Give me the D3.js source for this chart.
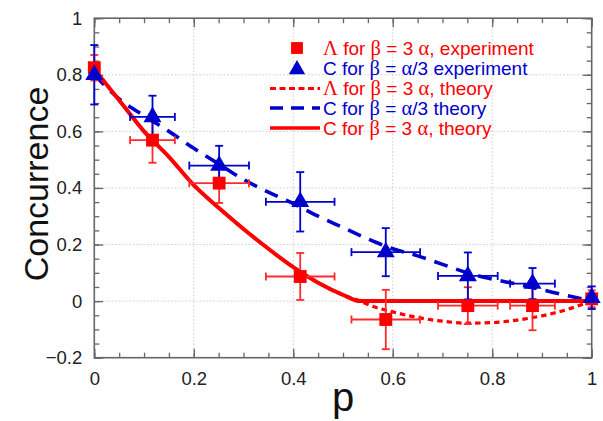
<!DOCTYPE html>
<meta charset="utf-8">
<style>
body { margin: 0; background: #fff; }
text { font-family: "Liberation Sans", Arial, sans-serif; }
.grid line { stroke: #ccc; stroke-dasharray: 1.5,2; }
</style>
<svg width="603" height="421"></svg>
<script src="https://cdnjs.cloudflare.com/ajax/libs/d3/7.8.5/d3.min.js"></script>
<script>

// experiment points
var pExp = [0, 0.117, 0.251, 0.414, 0.586, 0.751, 0.881, 1];
var pErr = [0, 0.045, 0.06, 0.069, 0.069, 0.06, 0.045, 0];
var lambdaExp = [0.825, 0.569, 0.417, 0.087, -0.065, -0.016, -0.016, 0.008];
var lambdaErr = [0.045, 0.08, 0.07, 0.083, 0.105, 0.065, 0.087, 0.03];
var cExp = [0.80, 0.651, 0.479, 0.351, 0.173, 0.089, 0.062, 0.012];
var cErr = [0.105, 0.075, 0.07, 0.105, 0.085, 0.083, 0.055, 0.04];

// theory curves
var pRed = [0, 0.05, 0.1, 0.15, 0.2, 0.25, 0.3, 0.35, 0.4, 0.45, 0.5, 0.535, 0.55, 0.6, 0.65, 0.7, 0.75, 0.8, 0.85, 0.9, 0.95, 1];
var lambdaTheory = [0.82, 0.71, 0.60, 0.51, 0.41, 0.33, 0.255, 0.185, 0.12, 0.065, 0.022, 0, -0.012, -0.038, -0.058, -0.071, -0.078, -0.076, -0.067, -0.052, -0.03, 0];
var cTheoryRed = [0.82, 0.71, 0.60, 0.51, 0.41, 0.33, 0.255, 0.185, 0.12, 0.065, 0.022, 0, 0, 0, 0, 0, 0, 0, 0, 0, 0, 0];
var pBlue = [0, 0.05, 0.1, 0.15, 0.2, 0.25, 0.3, 0.35, 0.4, 0.45, 0.5, 0.55, 0.6, 0.65, 0.7, 0.75, 0.8, 0.85, 0.9, 0.95, 1];
var cTheoryBlue = [0.80, 0.715, 0.655, 0.60, 0.54, 0.485, 0.43, 0.385, 0.345, 0.30, 0.26, 0.22, 0.185, 0.16, 0.13, 0.10, 0.078, 0.06, 0.04, 0.02, 0];

var xTicks = [0, 0.2, 0.4, 0.6, 0.8, 1];
var yTicks = [-0.2, 0, 0.2, 0.4, 0.6, 0.8, 1];

var RED = "#ff0000", BLUE = "#0000cc";

var svg = d3.select("svg");
var x = d3.scaleLinear().domain([0, 1]).range([94.3, 591.7]);
var y = d3.scaleLinear().domain([-0.2, 1]).range([357.7, 18.2]);

// grid
var grid = svg.append("g").attr("class", "grid");
grid.selectAll(".gx").data(xTicks.slice(1, -1)).enter().append("line")
    .attr("x1", d => x(d)).attr("x2", d => x(d)).attr("y1", y(1)).attr("y2", y(-0.2));
grid.selectAll(".gy").data(yTicks.slice(1, -1)).enter().append("line")
    .attr("x1", x(0)).attr("x2", x(1)).attr("y1", d => y(d)).attr("y2", d => y(d));

// axes: ticks inward on all four sides
var minorX = d3.range(0, 1.0001, 0.05), minorY = d3.range(-0.2, 1.0001, 0.05);
function axisStyle(g) {
  g.select(".domain").remove();
  g.selectAll("line").attr("stroke", "#666").attr("stroke-width", 1.3);
  g.selectAll("text").attr("fill", "#222").attr("font-size", "18.5px").attr("font-family", "Liberation Sans, Arial, sans-serif");
}
svg.append("g").attr("transform", "translate(0," + y(-0.2) + ")")
  .call(d3.axisBottom(x).tickValues(minorX).tickSize(-5).tickFormat(""))
  .call(axisStyle);
svg.append("g").attr("transform", "translate(0," + y(-0.2) + ")")
  .call(d3.axisBottom(x).tickValues(xTicks).tickSize(-9).tickPadding(14).tickFormat(d3.format("")))
  .call(axisStyle);
svg.append("g").attr("transform", "translate(0," + y(1) + ")")
  .call(d3.axisTop(x).tickValues(minorX).tickSize(-5).tickFormat(""))
  .call(axisStyle);
svg.append("g").attr("transform", "translate(0," + y(1) + ")")
  .call(d3.axisTop(x).tickValues(xTicks).tickSize(-9).tickFormat(""))
  .call(axisStyle);
svg.append("g").attr("transform", "translate(" + x(0) + ",0)")
  .call(d3.axisLeft(y).tickValues(minorY).tickSize(-5).tickFormat(""))
  .call(axisStyle);
svg.append("g").attr("transform", "translate(" + x(0) + ",0)")
  .call(d3.axisLeft(y).tickValues(yTicks).tickSize(-9).tickPadding(12).tickFormat(d3.format("")))
  .call(axisStyle);
svg.append("g").attr("transform", "translate(" + x(1) + ",0)")
  .call(d3.axisRight(y).tickValues(minorY).tickSize(-5).tickFormat(""))
  .call(axisStyle);
svg.append("g").attr("transform", "translate(" + x(1) + ",0)")
  .call(d3.axisRight(y).tickValues(yTicks).tickSize(-9).tickFormat(""))
  .call(axisStyle);

svg.append("rect")
  .attr("x", x(0)).attr("y", y(1)).attr("width", x(1) - x(0)).attr("height", y(-0.2) - y(1))
  .attr("fill", "none").attr("stroke", "#666").attr("stroke-width", 1.6);

// axis titles
svg.append("text").attr("x", 343).attr("y", 411).attr("text-anchor", "middle")
  .attr("font-size", "40px").attr("fill", "#111").text("p");
svg.append("text").attr("transform", "translate(48,184) rotate(-90)").attr("text-anchor", "middle")
  .attr("font-size", "34px").attr("fill", "#111").text("Concurrence");

// theory curves
var line = d3.line().curve(d3.curveMonotoneX);
svg.append("path")
  .attr("d", line(pRed.map((p, i) => [x(p), y(lambdaTheory[i])])))
  .attr("fill", "none").attr("stroke", RED).attr("stroke-width", 3.2).attr("stroke-dasharray", "5.5,4");
svg.append("path")
  .attr("d", line(pBlue.map((p, i) => [x(p), y(cTheoryBlue[i])])))
  .attr("fill", "none").attr("stroke", BLUE).attr("stroke-width", 3.6).attr("stroke-dasharray", "14,9");
svg.append("path")
  .attr("d", line(pRed.map((p, i) => [x(p), y(cTheoryRed[i])])))
  .attr("fill", "none").attr("stroke", RED).attr("stroke-width", 4);

// error bars
function errorBars(vals, errs, color) {
  var g = svg.append("g").attr("stroke", color).attr("stroke-width", 1.8).attr("fill", "none");
  pExp.forEach(function(p, i) {
    var cx = x(p), cy = y(vals[i]);
    var y0 = y(vals[i] - errs[i]), y1 = y(vals[i] + errs[i]);
    g.append("line").attr("x1", cx).attr("x2", cx).attr("y1", y0).attr("y2", y1);
    g.append("line").attr("x1", cx - 4).attr("x2", cx + 4).attr("y1", y0).attr("y2", y0);
    g.append("line").attr("x1", cx - 4).attr("x2", cx + 4).attr("y1", y1).attr("y2", y1);
    if (pErr[i] > 0) {
      var x0 = x(p - pErr[i]), x1 = x(p + pErr[i]);
      g.append("line").attr("x1", x0).attr("x2", x1).attr("y1", cy).attr("y2", cy);
      g.append("line").attr("x1", x0).attr("x2", x0).attr("y1", cy - 4).attr("y2", cy + 4);
      g.append("line").attr("x1", x1).attr("x2", x1).attr("y1", cy - 4).attr("y2", cy + 4);
    }
  });
}
errorBars(lambdaExp, lambdaErr, "#ff2a2a");
errorBars(cExp, cErr, BLUE);

// markers
var square = d3.symbol().type(d3.symbolSquare).size(165);
var triangle = d3.symbol().type(d3.symbolTriangle).size(140);
svg.append("g").selectAll("path").data(pExp).enter().append("path")
  .attr("d", square).attr("fill", RED)
  .attr("transform", (p, i) => "translate(" + x(p) + "," + y(lambdaExp[i]) + ")");
svg.append("g").selectAll("path").data(pExp).enter().append("path")
  .attr("d", triangle).attr("fill", BLUE)
  .attr("transform", (p, i) => "translate(" + x(p) + "," + y(cExp[i]) + ")");

// legend
var legendRows = [
  {color: RED, parts: [["Λ", 1], [" for ", 0], ["β", 1], [" = 3 ", 0], ["α", 1], [", experiment", 0]]},
  {color: BLUE, parts: [["C for ", 0], ["β", 1], [" = ", 0], ["α", 1], ["/3 experiment", 0]]},
  {color: RED, parts: [["Λ", 1], [" for ", 0], ["β", 1], [" = 3 ", 0], ["α", 1], [", theory", 0]]},
  {color: BLUE, parts: [["C for ", 0], ["β", 1], [" = ", 0], ["α", 1], ["/3 theory", 0]]},
  {color: RED, parts: [["C for ", 0], ["β", 1], [" = 3 ", 0], ["α", 1], [", theory", 0]]}
];
var legY = [48, 68.5, 88.5, 108, 128];
var lg = svg.append("g");
legendRows.forEach(function(r, i) {
  var t = lg.append("text").attr("x", 323).attr("y", legY[i] + 6.5).attr("fill", r.color).attr("font-size", "19px");
  r.parts.forEach(function(pt) {
    var s = t.append("tspan").text(pt[0]);
    if (pt[1]) s.attr("font-family", "Liberation Serif, serif").attr("font-size", "20.5px");
  });
});
lg.append("path").attr("d", square.size(140)).attr("fill", RED).attr("transform", "translate(297," + legY[0] + ")");
lg.append("path").attr("d", triangle.size(115)).attr("fill", BLUE).attr("transform", "translate(297," + (legY[1] + 1) + ")");
lg.append("line").attr("x1", 270).attr("x2", 320).attr("y1", legY[2]).attr("y2", legY[2])
  .attr("stroke", RED).attr("stroke-width", 3).attr("stroke-dasharray", "6,3.5");
lg.append("line").attr("x1", 270).attr("x2", 320).attr("y1", legY[3]).attr("y2", legY[3])
  .attr("stroke", BLUE).attr("stroke-width", 3.6).attr("stroke-dasharray", "13,8");
lg.append("line").attr("x1", 270).attr("x2", 320).attr("y1", legY[4]).attr("y2", legY[4])
  .attr("stroke", RED).attr("stroke-width", 3.5);

</script>
